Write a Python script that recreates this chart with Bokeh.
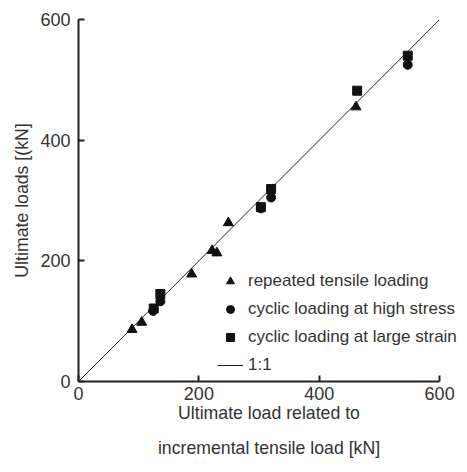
from bokeh.plotting import figure
from bokeh.models import Range1d, Legend, LegendItem, FixedTicker
from bokeh.embed import file_html
from bokeh.resources import INLINE

# Data
rep_x = [89, 105, 188, 222, 230, 249, 461]
rep_y = [86, 98, 178, 217, 213, 263, 455]
hs_x = [124, 136, 303, 320, 547]
hs_y = [117, 133, 287, 305, 525]
ls_x = [125, 136, 303, 320, 463, 547]
ls_y = [121, 145, 289, 319, 482, 540]
line_x = [0, 600]
line_y = [0, 600]
ticks = [0, 200, 400, 600]

FONT = "Liberation Sans"
TXT = "#333333"
INK = "#111111"

p = figure(width=459, height=464, output_backend="svg", toolbar_location=None,
           x_range=Range1d(0, 633), y_range=Range1d(0, 600),
           min_border_left=78, min_border_top=19, min_border_right=0, min_border_bottom=83)
p.outline_line_color = None
p.grid.visible = False
p.background_fill_color = "white"

r_line = p.line(line_x, line_y, line_color="#222222", line_width=1)
r_rep = p.scatter(rep_x, rep_y, marker="triangle", size=10, color=INK)
r_hs = p.scatter(hs_x, hs_y, marker="circle", size=9, color=INK)
r_ls = p.scatter(ls_x, ls_y, marker="square", size=9, color=INK)

for ax in (p.xaxis[0], p.yaxis[0]):
    ax.ticker = FixedTicker(ticks=ticks)
    ax.bounds = (0, 600)
    ax.minor_tick_line_color = None
    ax.major_tick_in = 6
    ax.major_tick_out = 0
    ax.major_tick_line_width = 2
    ax.major_tick_line_color = "#222222"
    ax.axis_line_width = 2
    ax.axis_line_color = "#222222"
    ax.major_label_text_font = FONT
    ax.major_label_text_font_size = "18px"
    ax.major_label_text_color = TXT
    ax.axis_label_text_font = FONT
    ax.axis_label_text_font_size = "17.7px"
    ax.axis_label_text_color = TXT
    ax.axis_label_text_font_style = "normal"

p.xaxis[0].axis_label = "Ultimate load related to\nincremental tensile load [kN]"
p.xaxis[0].axis_label_text_line_height = 1.75
p.xaxis[0].major_label_standoff = 5
p.xaxis[0].axis_label_standoff = 0
p.yaxis[0].axis_label = "Ultimate loads [(kN]"
p.yaxis[0].major_label_standoff = 8
p.yaxis[0].axis_label_standoff = 5

legend = Legend(items=[
    LegendItem(label="repeated tensile loading", renderers=[r_rep]),
    LegendItem(label="cyclic loading at high stress", renderers=[r_hs]),
    LegendItem(label="cyclic loading at large strain", renderers=[r_ls]),
    LegendItem(label="1:1", renderers=[r_line]),
], location=(139, 6))
legend.border_line_color = None
legend.background_fill_alpha = 0
legend.padding = 0
legend.margin = 0
legend.spacing = 8
legend.glyph_width = 26
legend.glyph_height = 20
legend.label_height = 20
legend.label_standoff = 5
legend.label_text_font = FONT
legend.label_text_font_size = "17px"
legend.label_text_color = TXT
p.add_layout(legend, "center")

open("out.html", "w").write(file_html(p, INLINE))
